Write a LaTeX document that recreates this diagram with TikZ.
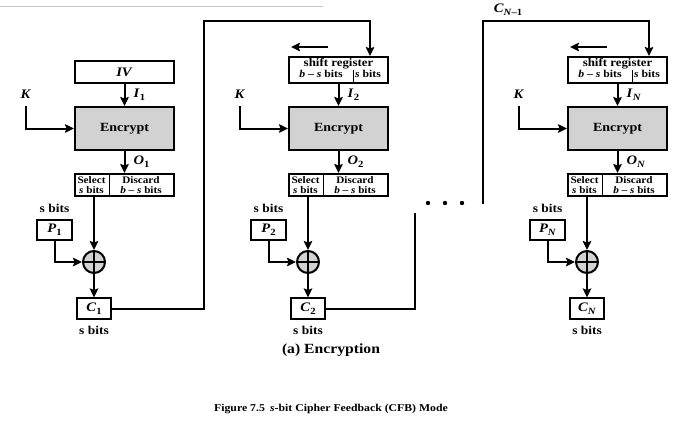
\documentclass[tikz,border=0pt]{standalone}
\usepackage{fontspec}
\setmainfont{Liberation Serif}[FakeStretch=1.12]
\usetikzlibrary{calc,arrows.meta}

\definecolor{encgray}{RGB}{210,210,210}
\definecolor{rulegray}{RGB}{200,200,200}

% bold italic variable with a bold subscript
\newcommand{\vsub}[2]{\textbf{\textit{#1}}\raisebox{-0.45ex}{\fontsize{9.5}{10}\selectfont\bfseries #2}}

\tikzset{
  wire/.style={line width=2pt},
  arr/.style={wire,-{Stealth[length=9pt,width=8.5pt,inset=1.5pt]}},
  boxx/.style={draw,line width=2pt,fill=white,inner sep=0pt,anchor=north west},
  encbox/.style={boxx,fill=encgray,minimum width=99pt,minimum height=43pt,
                 font=\fontsize{12.5}{14}\selectfont\bfseries},
  cbox/.style={draw,line width=1.1pt,fill=white,minimum width=34pt,minimum height=21pt,inner sep=0pt,
               font=\fontsize{13}{14}\selectfont},
  pbox/.style={draw,line width=2pt,fill=white,minimum width=35pt,minimum height=20pt,inner sep=0pt,
               font=\fontsize{13}{14}\selectfont},
  lbl/.style={inner sep=0pt,font=\fontsize{13}{14}\selectfont},
  bits/.style={inner sep=0pt,font=\fontsize{12}{13}\selectfont\bfseries},
  cell/.style={inner sep=0pt,align=center,font=\fontsize{10}{9.2}\selectfont\bfseries},
  xor/.style={circle,draw,line width=2pt,fill=encgray,minimum size=22pt,inner sep=0pt,
    path picture={\draw[line width=1.4pt]
      (path picture bounding box.north) -- (path picture bounding box.south)
      (path picture bounding box.west) -- (path picture bounding box.east);}},
}

\begin{document}
\begin{tikzpicture}[x=1pt,y=-1pt]
\useasboundingbox (0,0) rectangle (673,426);

% thin rule along the top
\draw[rulegray,line width=1pt] (0,6) -- (323,6);

% input registers
\node[boxx,minimum width=99pt,minimum height=22pt,font=\fontsize{13}{14}\selectfont] (in1) at (74,60) {\textbf{\textit{IV}}};
\foreach \c/\L in {2/288,N/567}{
  \node[boxx,minimum width=99pt,minimum height=26pt] (in\c) at (\L,56) {};
  \node[cell,font=\fontsize{11.5}{12}\selectfont\bfseries] at ($(in\c.north)+(0,8)$) {shift register};
  \node[cell,font=\fontsize{10.5}{11}\selectfont\bfseries] at ($(in\c.north west)+(33,18)$) {\textit{b} -- \textit{s} bits};
  \node[cell,font=\fontsize{10.5}{11}\selectfont\bfseries] at ($(in\c.north west)+(80,18)$) {\textit{s} bits};
  \draw[line width=0.8pt] ($(in\c.north west)+(65,14)$) -- ($(in\c.south west)+(65,0)$);
  \coordinate (sl\c) at ($(in\c.north west)+(40,-9)$);
  \coordinate (sr\c) at ($(in\c.north west)+(3,-9)$);
  \draw[arr] (sl\c) -- (sr\c);
  \coordinate (feed\c) at ($(in\c.north east)+(-19,0)$);
}

% one encryption stage per column
\foreach \c/\L/\s in {1/74/1, 2/288/2, N/567/{\textit{N}}}{
  \node[encbox] (enc\c) at (\L,106) {Encrypt};
  \draw[arr] (in\c.south) -- (enc\c.north);
  \node[lbl,anchor=west] at ($(in\c.south)!0.5!(enc\c.north)+(9,0)$) {\vsub{I}{\s}};

  % key input
  \node[lbl] (k\c) at ($(enc\c.west)+(-48,-34.5)$) {\textbf{\textit{K}}};
  \draw[arr,shorten <=8pt] (k\c.south) |- (enc\c.west);

  % select / discard
  \node[boxx,minimum width=99pt,minimum height=22pt] (sel\c) at (\L,173) {};
  \draw[line width=1pt] ($(sel\c.north west)+(35,0)$) -- ($(sel\c.south west)+(35,0)$);
  \node[cell] at ($(sel\c.west)+(17.5,0)$) {Select\\\textit{s} bits};
  \node[cell] at ($(sel\c.west)+(67,0)$) {Discard\\\textit{b} -- \textit{s} bits};
  \draw[arr] (enc\c.south) -- (sel\c.north);
  \node[lbl,anchor=west] at ($(enc\c.south)!0.5!(sel\c.north)+(9,0)$) {\vsub{O}{\s}};

  % XOR with the plaintext segment
  \coordinate (tap\c) at ($(sel\c.south west)+(20,0)$);
  \node[xor] (x\c) at ($(tap\c)+(0,65)$) {};
  \draw[arr] (tap\c) -- (x\c.north);
  \node[pbox] (p\c) at ($(x\c)+(-39.5,-32)$) {\vsub{P}{\s}};
  \node[bits] at ($(p\c.north)+(0,-11)$) {s bits};
  \draw[arr] (p\c.south) |- (x\c.west);

  % ciphertext segment
  \node[cbox] (cc\c) at ($(x\c)+(0,46.5)$) {\vsub{C}{\s}};
  \node[bits] at ($(cc\c.south)+(0,11)$) {s bits};
  \draw[arr] (x\c.south) -- (cc\c.north);
}

% feedback paths
\coordinate (up1) at (204,21);
\draw[arr] (cc1.east) -| (up1) -| (feed2);
\coordinate (gapA) at (415,213);
\draw[wire] (cc2.east) -| (gapA);
\coordinate (gapB) at (483,204);
\coordinate (upN) at (483,21);
\draw[arr] (gapB) -- (upN) -| (feedN);
\node[lbl] (cprev) at (508,10) {\vsub{C}{\textit{N}--1}};

% ellipsis between stages
\foreach \px in {428,445,462}{
  \fill (\px,203) circle (2.2pt);
}

% captions
\node[inner sep=0pt,font=\fontsize{14}{16}\selectfont\bfseries] (cap) at (331,350) {(a) Encryption};
\node[inner sep=0pt,font=\fontsize{10.5}{12}\selectfont\bfseries] (fig) at (331,409) {Figure 7.5\enspace\textit{s}-bit Cipher Feedback (CFB) Mode};
\end{tikzpicture}
\end{document}
